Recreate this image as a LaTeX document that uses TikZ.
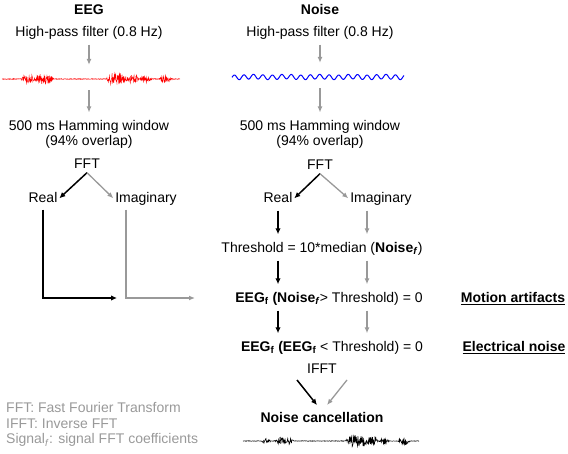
\documentclass[tikz,border=0pt]{standalone}
\usepackage{fontspec}
\setmainfont{Liberation Sans}
\usepackage{tikz}
\usetikzlibrary{arrows.meta}
\tikzset{
  txt/.style={inner sep=1pt, font=\fontsize{14}{15}\selectfont},
  row/.style={txt, text height=10pt, text depth=3pt},
  head/.style={row, font=\fontsize{14}{15}\selectfont\bfseries},
  barrow/.style={-{Latex[length=6pt,width=5.5pt]}, line width=1.5pt, black},
  garrow/.style={-{Latex[length=6pt,width=5pt]}, line width=1.3pt, gray!80},
  spaced/.style={shorten <=4pt, shorten >=7pt},
  sig/.style={minimum height=14pt, inner sep=0pt},
}

\begin{document}
\begin{tikzpicture}[x=1pt,y=-1pt,
  declare function={bu(\xx,\cc,\ww)=min(1,max(0,2-2*abs(\xx-\cc)/\ww));}]
\useasboundingbox (0,0) rectangle (568,454);
\pgfmathsetseed{7}

% EEG column
\node[head] (eeg) at (89,11) {EEG};
\node[row] (hpe) at (89,33) {High-pass filter (0.8 Hz)};
\node[sig, minimum width=178pt] (eegsig) at (89,79) {};
\draw[red, line width=0.5pt] plot[domain=2:180, samples=520]
  (\x,{79+(0.4+4*bu(\x,28,7)+4.5*bu(\x,44,10)+5.5*bu(\x,117,11)+4*bu(\x,133,6)+3*bu(\x,146,6)+3*bu(\x,166,7))*rand});
\node[txt, align=center, anchor=north] (hame) at (89,119.5) {500 ms Hamming window\\(94\% overlap)};
\node[row] (ffte) at (87,165) {FFT};
\node[row] (reale) at (43,199) {Real};
\node[row] (image) at (146,199) {Imaginary};
\coordinate (egx) at (126,0);
\coordinate (ebend) at (117,298);
\coordinate (gbend) at (195,298);

\draw[garrow, spaced] (hpe) -- (eegsig);
\draw[garrow, spaced] (eegsig) -- (hame);
\draw[barrow, shorten >=1pt] (ffte.south) -- (reale.east);
\draw[garrow, shorten >=1pt] (ffte.south) -- (image.west);
\draw[barrow, shorten <=3pt] (reale.south) |- (ebend);
\draw[garrow, shorten <=3pt] (image.south -| egx) |- (gbend);

% Noise column
\node[head] (noise) at (320,11) {Noise};
\node[row] (hpn) at (320,33) {High-pass filter (0.8 Hz)};
\node[sig, minimum width=172pt] (noisesig) at (320,77) {};
\draw[blue, line width=1pt] plot[domain=232:404, samples=400]
  (\x,{77+2.3*sin(38*\x)+0.4*sin(11*\x)});
\node[txt, align=center, anchor=north] (hamn) at (320,119.5) {500 ms Hamming window\\(94\% overlap)};
\node[row] (fftn) at (320,166) {FFT};
\node[row] (realn) at (278,199) {Real};
\node[row] (imagn) at (381,199) {Imaginary};
\node[row] (thresh) at (322,249) {Threshold = 10*median (\textbf{Noise}\textsubscript{\textbf{\textit{f}}})};
\node[row] (motion) at (329,299) {\textbf{EEG}\textsubscript{\textbf{f}} \textbf{(Noise}\textsubscript{\textbf{\textit{f}}}> Threshold) = 0};
\node[row] (elec) at (332,348) {\textbf{EEG}\textsubscript{\textbf{f}} \textbf{(EEG}\textsubscript{\textbf{f}} < Threshold) = 0};
\node[row] (ifft) at (322,370) {IFFT};
\node[head] (cancel) at (322,419) {Noise cancellation};
\node[sig, minimum width=176pt] (cleansig) at (331,441) {};
\draw[black, line width=0.5pt] plot[domain=243:419, samples=520]
  (\x,{441+(0.3+2*bu(\x,266,5)+3.5*bu(\x,284,10)+6*bu(\x,357,12)+4*bu(\x,372,6)+2*bu(\x,384,5)+3*bu(\x,404,6))*rand});
\coordinate (ngx) at (367,0);
\coordinate (ib) at (297,380);
\coordinate (ig) at (347,380);

\draw[garrow, spaced] (hpn) -- (noisesig);
\draw[garrow, spaced] (noisesig) -- (hamn);
\draw[barrow, shorten >=1pt] (fftn.south) -- (realn.east);
\draw[garrow, shorten >=1pt] (fftn.south) -- (imagn.west);
\draw[barrow, spaced] (realn) -- (thresh.north -| realn);
\draw[garrow, spaced] (imagn.south -| ngx) -- (thresh.north -| ngx);
\draw[barrow, spaced] (thresh.south -| realn) -- (motion.north -| realn);
\draw[garrow, spaced] (thresh.south -| ngx) -- (motion.north -| ngx);
\draw[barrow, spaced] (motion.south -| realn) -- (elec.north -| realn);
\draw[garrow, spaced] (motion.south -| ngx) -- (elec.north -| ngx);
\draw[barrow, shorten >=8pt] (ib) -- (cancel.north);
\draw[garrow, shorten >=8pt] (ig) -- (cancel.north);

% labels
\node[head] (motlab) at (513,299) {\underline{Motion artifacts}};
\node[head] (eleclab) at (514,348) {\underline{Electrical noise}};
\node[txt, anchor=north west, align=left, text=gray!80, font=\fontsize{14}{15.5}\selectfont] (legend) at (5,401.5)
  {FFT: Fast Fourier Transform\\IFFT: Inverse FFT\\Signal\textsubscript{\textit{f}}: signal FFT coefficients};
\end{tikzpicture}
\end{document}
